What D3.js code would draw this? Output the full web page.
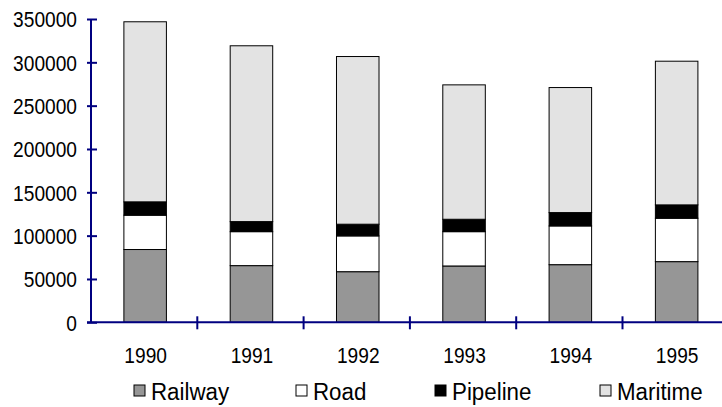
<!DOCTYPE html>
<html>
<head>
<meta charset="utf-8">
<script src="https://cdn.jsdelivr.net/npm/d3@7/dist/d3.min.js"></script>
<style>
  html, body { margin: 0; padding: 0; background: #fff; }
  svg { display: block; font-family: "Liberation Sans", Arial, sans-serif; }
</style>
</head>
<body>
<svg id="chart" width="722" height="407"></svg>
<script>
// Freight transport volume by mode, 1990-1995 (stacked)
const years    = ["1990", "1991", "1992", "1993", "1994", "1995"];
const railway  = [84000, 65400, 58400, 65000, 66500, 70000];
const road     = [39600, 39200, 41300, 39600, 44700, 50100];
const pipeline = [15400, 11600, 13500, 14300, 15400, 15400];
const maritime = [207800, 202900, 193500, 155100, 144300, 165800];
const seriesNames = ["Railway", "Road", "Pipeline", "Maritime"];
const yTicks = [0, 50000, 100000, 150000, 200000, 250000, 300000, 350000];

const colors = { Railway: "#969696", Road: "#ffffff", Pipeline: "#000000", Maritime: "#e3e3e3" };
const axisColor = "#000080";

const rows = years.map((yr, i) => ({
  year: yr, Railway: railway[i], Road: road[i], Pipeline: pipeline[i], Maritime: maritime[i]
}));

const svg = d3.select("#chart");
const plotLeft = 91, plotBottom = 322.3, plotTop = 19, band = 106.3;

const x = d3.scaleBand().domain(years).range([plotLeft, plotLeft + band * years.length]).padding(0);
const y = d3.scaleLinear().domain([0, 350000]).range([plotBottom, plotTop]);

const stacked = d3.stack().keys(seriesNames)(rows);
const barW = x.bandwidth() / 2.5;

// narrow the glyphs of a text selection horizontally
function condense(sel, factor) {
  sel.each(function () {
    const w = this.getComputedTextLength();
    d3.select(this).attr("textLength", w * factor).attr("lengthAdjust", "spacingAndGlyphs");
  });
}

// stacked bars
svg.append("g").selectAll("g")
  .data(stacked).join("g")
  .attr("fill", d => colors[d.key])
  .selectAll("rect")
  .data(d => d).join("rect")
  .attr("x", d => x(d.data.year) + (x.bandwidth() - barW) / 2 + 1)
  .attr("width", barW)
  .attr("y", d => y(d[1]))
  .attr("height", d => y(d[0]) - y(d[1]))
  .attr("stroke", "#000")
  .attr("stroke-width", 1);

// y axis
const yAxis = svg.append("g").attr("transform", `translate(${plotLeft},0)`)
  .call(d3.axisLeft(y).tickValues(yTicks).tickFormat(d3.format("d")).tickSizeInner(5).tickSizeOuter(0));
yAxis.select(".domain").attr("stroke", axisColor).attr("stroke-width", 2)
  .attr("d", `M0,${plotTop}V${plotBottom}`);
yAxis.selectAll(".tick line").attr("stroke", axisColor).attr("stroke-width", 2).attr("x1", 6).attr("x2", -4);
yAxis.selectAll(".tick text").attr("x", -14).attr("fill", "#000")
  .style("font-size", "22px").attr("dy", "0.36em")
  .call(condense, 0.87);

// x axis with ticks between categories
const xAxisG = svg.append("g");
xAxisG.append("line")
  .attr("x1", plotLeft - 4).attr("x2", 722)
  .attr("y1", plotBottom).attr("y2", plotBottom)
  .attr("stroke", axisColor).attr("stroke-width", 2);
xAxisG.selectAll("line.tk")
  .data(years.slice(1)).join("line")
  .attr("class", "tk")
  .attr("x1", d => x(d)).attr("x2", d => x(d))
  .attr("y1", plotBottom - 6).attr("y2", plotBottom + 7)
  .attr("stroke", axisColor).attr("stroke-width", 2);
xAxisG.selectAll("text")
  .data(years).join("text")
  .attr("x", d => x(d) + x.bandwidth() / 2 + 1.5)
  .attr("y", 363)
  .attr("text-anchor", "middle")
  .style("font-size", "22px")
  .text(d => d)
  .call(condense, 0.87);

// legend
const legendX = [134, 296, 435, 600];
const lg = svg.append("g").selectAll("g")
  .data(seriesNames).join("g")
  .attr("transform", (d, i) => `translate(${legendX[i]},385)`);
lg.append("rect")
  .attr("width", 11).attr("height", 11)
  .attr("fill", d => colors[d]).attr("stroke", "#000").attr("stroke-width", 1);
lg.append("text")
  .attr("x", 17).attr("y", 15)
  .style("font-size", "23.5px")
  .text(d => d)
  .call(condense, 0.95);
</script>
</body>
</html>
